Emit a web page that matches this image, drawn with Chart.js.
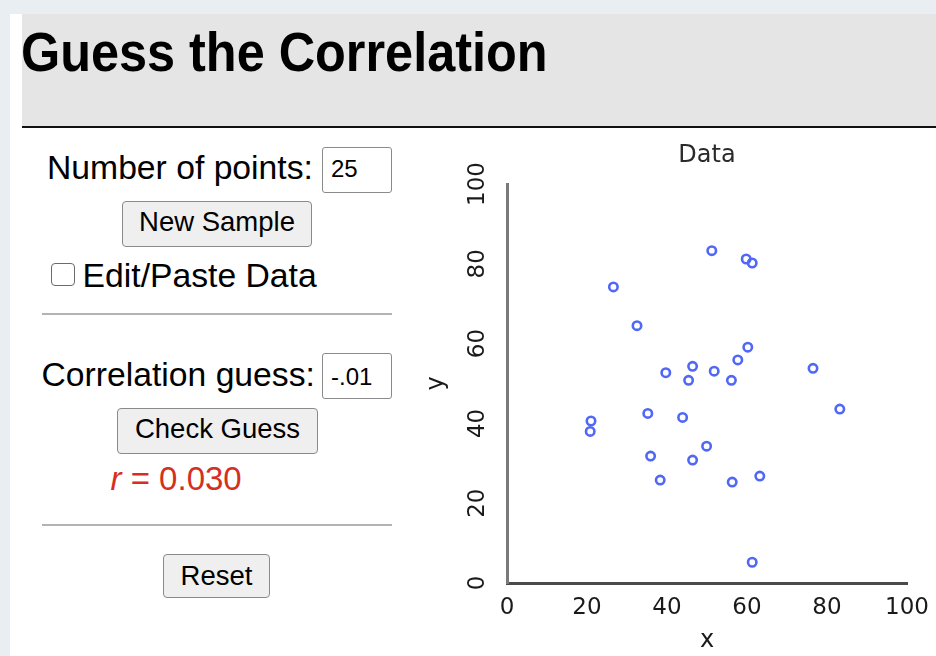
<!DOCTYPE html>
<html>
<head>
<meta charset="utf-8">
<script src="https://cdn.jsdelivr.net/npm/chart.js@4"></script>
<style>
  body { margin: 0; background: #e9eef2; width: 936px; height: 656px; overflow: hidden; position: relative; font-family: "Liberation Sans", Arial, sans-serif; }
  .abs { position: absolute; }
  .t { position: absolute; white-space: nowrap; line-height: 1; color: #000; }
  .box { position: absolute; box-sizing: border-box; border: 1px solid #8a8a8a; border-radius: 3px; background: #fff; }
  .btn { position: absolute; box-sizing: border-box; border: 1px solid #8a8a8a; border-radius: 4px; background: #efefef; text-align: center; font-size: 27.5px; line-height: 1; white-space: nowrap; }
  .rule { position: absolute; left: 42px; width: 350px; height: 2px; background: #b3b3b3; }
</style>
</head>
<body>
<div class="abs" style="left:10px; top:14px; width:926px; height:642px; background:#fff;"></div>
<div class="abs" style="left:22px; top:14px; width:914px; height:112px; background:#e5e5e5;"></div>
<div class="abs" style="left:22px; top:126px; width:914px; height:2px; background:#111;"></div>
<div class="t" style="left:21px; top:24px; font-size:56px; font-weight:bold; transform:scaleX(0.9); transform-origin:left top;">Guess the Correlation</div>

<!-- left panel -->
<div class="t" style="left:47px; top:150.8px; font-size:33.7px;">Number of points:</div>
<div class="box" style="left:322px; top:147px; width:70px; height:46px;"></div>
<div class="t" style="left:331px; top:156.7px; font-size:24px;">25</div>
<div class="btn" style="left:122px; top:201px; width:190px; height:46px; padding-top:6.4px;">New Sample</div>
<div class="abs" style="left:51px; top:263px; width:24px; height:23px; box-sizing:border-box; border:1.5px solid #6b6b6b; border-radius:4px; background:#fff;"></div>
<div class="t" style="left:82.6px; top:258.5px; font-size:33.7px;">Edit/Paste Data</div>
<div class="rule" style="top:313px;"></div>

<div class="t" style="left:41.5px; top:358.2px; font-size:33.7px;">Correlation guess:</div>
<div class="box" style="left:322px; top:353px; width:70px; height:46px;"></div>
<div class="t" style="left:331px; top:364.7px; font-size:24px;">-.01</div>
<div class="btn" style="left:117px; top:408px; width:201px; height:46px; padding-top:6px;">Check Guess</div>
<div class="t" style="left:110.5px; top:462.1px; font-size:33px; color:#d4301f;"><i>r</i> = 0.030</div>
<div class="rule" style="top:524px;"></div>
<div class="btn" style="left:163px; top:554px; width:107px; height:44px; padding-top:6.7px;">Reset</div>

<canvas id="myChart" width="516" height="526" style="position:absolute; left:420px; top:130px;"></canvas>

<script>
// 散布図のデータ（25点）
const xs = [51.2, 59.8, 61.3, 26.6, 32.5, 60.2, 57.7, 46.4, 39.7, 51.8, 45.4, 56.1, 76.5,
  35.2, 43.9, 83.2, 21.0, 20.8, 49.9, 35.9, 46.4, 38.3, 56.3, 63.2, 61.3]
const ys = [83.3, 81.2, 80.2, 74.2, 64.5, 59.1, 55.9, 54.3, 52.7, 53.1, 50.8, 50.8, 53.8,
  42.5, 41.5, 43.6, 40.6, 38.0, 34.3, 31.8, 30.8, 25.8, 25.3, 26.8, 5.2]
const axisTicks = [0, 20, 40, 60, 80, 100]

let pts = xs.map((x, i) => {
  return { x: x, y: ys[i] }
})

Chart.defaults.font.family = "'DejaVu Sans', Verdana, sans-serif"
Chart.defaults.color = "#1a1a1a"

const ctx = document.getElementById("myChart")

new Chart(ctx, {
  type: "scatter",
  data: {
    datasets: [
      {
        label: "Data",
        data: pts,
        pointRadius: 4.2,
        pointHoverRadius: 4.2,
        borderWidth: 2.6,
        borderColor: "#5167f6",
        backgroundColor: "rgba(255,255,255,0)",
      },
    ],
  },
  options: {
    responsive: false,
    animation: false,
    devicePixelRatio: 1,
    layout: { padding: { left: 0, right: 29, top: 0, bottom: 0 } },
    plugins: {
      legend: { display: false },
      tooltip: { enabled: false },
      title: {
        display: true,
        text: "Data",
        fullSize: false,
        color: "#2a2a2a",
        font: { size: 24, weight: "normal" },
        padding: { top: 11, bottom: 14.2 },
      },
    },
    scales: {
      x: {
        type: "linear",
        min: axisTicks[0],
        max: axisTicks[axisTicks.length - 1],
        afterBuildTicks: (s) => { s.ticks = axisTicks.map((v) => ({ value: v })) },
        afterFit: (s) => { s.height = 73 },
        // tick marks stay hidden, tickLength only pushes the labels down
        grid: { display: false, drawTicks: true, tickLength: 4 },
        border: { display: true, color: "#4a4a4a", width: 3 },
        ticks: { font: { size: 23 }, padding: 7, color: "#1a1a1a", maxRotation: 0 },
        title: { display: true, text: "x", font: { size: 24 }, color: "#1a1a1a", padding: { top: 0, bottom: 1 } },
      },
      y: {
        type: "linear",
        min: axisTicks[0],
        max: axisTicks[axisTicks.length - 1],
        afterBuildTicks: (s) => { s.ticks = axisTicks.map((v) => ({ value: v })) },
        afterFit: (s) => { s.width = 87 },
        grid: { display: false, drawTicks: false },
        border: { display: true, color: "#7a7a7a", width: 3 },
        ticks: { font: { size: 23 }, padding: 7, color: "#1a1a1a", minRotation: 90, maxRotation: 90, crossAlign: "center" },
        title: { display: true, text: "y", font: { size: 24 }, color: "#1a1a1a", padding: { top: 2.5, bottom: 0 } },
      },
    },
  },
})
</script>
</body>
</html>
